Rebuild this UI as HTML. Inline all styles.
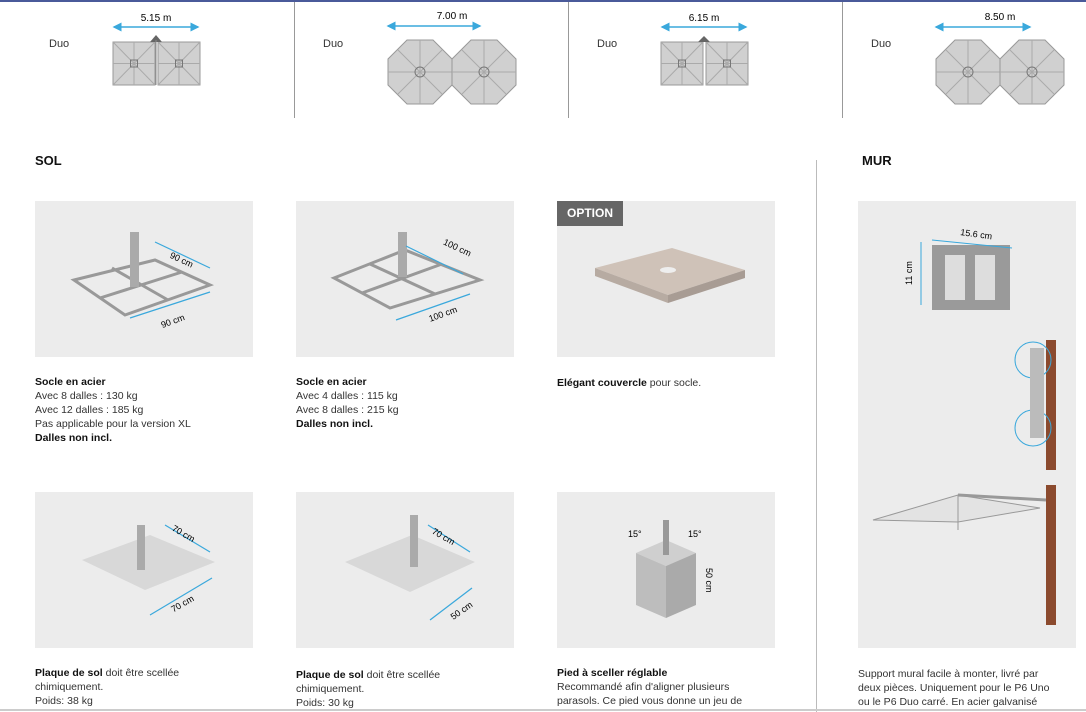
<!DOCTYPE html>
<html><head><meta charset="utf-8"><style>
body{margin:0;width:1086px;height:712px;position:relative;background:#fff;font-family:"Liberation Sans",sans-serif;color:#222;overflow:hidden}
.a{position:absolute}
.box{position:absolute;background:#ececec;width:218px;height:156px}
.t{position:absolute;font-size:10.5px;line-height:14px;color:#333}
.t b{color:#111}
.h{position:absolute;font-size:13px;font-weight:bold;color:#111}
.duo{position:absolute;font-size:11px;color:#333}
.vl{position:absolute;width:1px;background:#999}
</style></head><body>
<div class="a" style="left:0;top:0;width:1086px;height:2px;background:#4a5a9a"></div>
<div class="vl" style="left:294px;top:2px;height:116px"></div>
<div class="vl" style="left:568px;top:2px;height:116px"></div>
<div class="vl" style="left:842px;top:2px;height:116px"></div>
<div class="vl" style="left:816px;top:160px;height:552px;background:#bbb"></div>
<div class="a" style="left:0;top:709px;width:1086px;height:2px;background:#ccc"></div>

<div class="duo" style="left:49px;top:38px">Duo</div>
<div class="duo" style="left:323px;top:38px">Duo</div>
<div class="duo" style="left:597px;top:38px">Duo</div>
<div class="duo" style="left:871px;top:38px">Duo</div>

<svg class="a" style="left:0;top:0" width="1086" height="120" font-family="Liberation Sans" font-size="10">
<defs><marker id="ar" markerWidth="6" markerHeight="6" refX="5" refY="3" orient="auto-start-reverse"><path d="M0,0L6,3L0,6z" fill="#3aa8dc"/></marker>
<g id="sq"><rect x="0" y="0" width="42" height="43" fill="#d0d0d0" stroke="#999"/><path d="M0,0L42,43M42,0L0,43M21,0V43M0,21.5H42" stroke="#aaa"/><rect x="17.5" y="18" width="7" height="7" fill="none" stroke="#777"/></g>
<g id="oct"><polygon points="-13,-32 13,-32 32,-13 32,13 13,32 -13,32 -32,13 -32,-13" fill="#d0d0d0" stroke="#999"/><path d="M-22,-22L22,22M22,-22L-22,22M0,-32V32M-32,0H32" stroke="#aaa"/><circle r="5" fill="none" stroke="#777"/></g></defs>
<line x1="114" y1="27" x2="198" y2="27" stroke="#3aa8dc" stroke-width="1.5" marker-start="url(#ar)" marker-end="url(#ar)"/>
<text x="156" y="21" text-anchor="middle">5.15 m</text>
<use href="#sq" x="113" y="42"/><use href="#sq" x="158" y="42"/><polygon points="150,42 156,35 162,42" fill="#666"/><line x1="156" y1="40" x2="156" y2="85" stroke="#888"/>
<line x1="388" y1="26" x2="480" y2="26" stroke="#3aa8dc" stroke-width="1.5" marker-start="url(#ar)" marker-end="url(#ar)"/>
<text x="452" y="19" text-anchor="middle">7.00 m</text>
<use href="#oct" x="420" y="72"/><use href="#oct" x="484" y="72"/>
<line x1="662" y1="27" x2="746" y2="27" stroke="#3aa8dc" stroke-width="1.5" marker-start="url(#ar)" marker-end="url(#ar)"/>
<text x="704" y="21" text-anchor="middle">6.15 m</text>
<use href="#sq" x="661" y="42"/><use href="#sq" x="706" y="42"/><polygon points="698,42 704,36 710,42" fill="#666"/>
<line x1="936" y1="27" x2="1030" y2="27" stroke="#3aa8dc" stroke-width="1.5" marker-start="url(#ar)" marker-end="url(#ar)"/>
<text x="1000" y="20" text-anchor="middle">8.50 m</text>
<use href="#oct" x="968" y="72"/><use href="#oct" x="1032" y="72"/>
</svg>

<div class="h" style="left:35px;top:153px">SOL</div>
<div class="h" style="left:862px;top:153px">MUR</div>

<div class="box" style="left:35px;top:201px"></div>
<div class="box" style="left:296px;top:201px"></div>
<div class="box" style="left:557px;top:201px"></div>
<div class="box" style="left:35px;top:492px"></div>
<div class="box" style="left:296px;top:492px"></div>
<div class="box" style="left:557px;top:492px"></div>
<div class="box" style="left:858px;top:201px;height:447px"></div>
<div class="a" style="left:557px;top:201px;width:66px;height:25px;background:#666;color:#fff;font-weight:bold;font-size:12px;line-height:25px;text-align:center">OPTION</div>

<svg class="a" style="left:0;top:190px" width="1086" height="470" font-family="Liberation Sans" font-size="9">
<g stroke="#999" stroke-width="3" fill="none">
<path d="M74,90L155,70L210,95L125,125Z M100,108L182,82 M112,78L168,110"/>
<path d="M334,88L405,60L480,90L390,118Z M362,103L442,74 M370,74L435,104"/>
</g>
<rect x="130" y="42" width="9" height="55" fill="#aaa"/><rect x="398" y="42" width="9" height="45" fill="#aaa"/>
<g stroke="#3aa8dc" stroke-width="1.2"><line x1="155" y1="52" x2="210" y2="78"/><line x1="130" y1="128" x2="210" y2="102"/><line x1="406" y1="56" x2="463" y2="84"/><line x1="396" y1="130" x2="470" y2="104"/></g>
<text x="170" y="72" transform="rotate(25 180 68)">90 cm</text><text x="160" y="135" transform="rotate(-20 170 130)">90 cm</text>
<text x="440" y="58" transform="rotate(25 450 62)">100 cm</text><text x="428" y="128" transform="rotate(-20 440 124)">100 cm</text>
<polygon points="595,78 672,58 745,80 668,105" fill="#cfc2b8"/>
<polygon points="595,78 668,105 668,113 595,86" fill="#b7aba2"/><polygon points="668,105 745,80 745,88 668,113" fill="#a89c94"/>
<ellipse cx="668" cy="80" rx="8" ry="3" fill="#eee"/>
<polygon points="82,370 150,345 215,372 145,400" fill="#d8d8d8"/><rect x="137" y="335" width="8" height="45" fill="#aaa"/>
<polygon points="345,372 412,345 475,372 410,402" fill="#d8d8d8"/><rect x="410" y="325" width="8" height="52" fill="#aaa"/>
<g stroke="#3aa8dc" stroke-width="1.2"><line x1="165" y1="335" x2="210" y2="362"/><line x1="150" y1="425" x2="212" y2="388"/><line x1="428" y1="335" x2="470" y2="362"/><line x1="430" y1="430" x2="472" y2="398"/></g>
<text x="170" y="345" transform="rotate(30 180 345)">70 cm</text><text x="170" y="418" transform="rotate(-30 180 414)">70 cm</text>
<text x="430" y="348" transform="rotate(30 440 348)">70 cm</text><text x="450" y="428" transform="rotate(-35 455 424)">50 cm</text>
<polygon points="636,363 666,350 696,363 666,376" fill="#cfcfcf"/><polygon points="636,363 666,376 666,428 636,415" fill="#bdbdbd"/><polygon points="666,376 696,363 696,415 666,428" fill="#aaa"/>
<rect x="663" y="330" width="6" height="35" fill="#999"/>
<text x="628" y="347">15°</text><text x="688" y="347">15°</text><text x="706" y="378" transform="rotate(90 706 378)">50 cm</text>
<rect x="932" y="55" width="78" height="65" fill="#9a9a9a"/><rect x="945" y="65" width="20" height="45" fill="#ddd"/><rect x="975" y="65" width="20" height="45" fill="#ddd"/>
<text x="960" y="45" transform="rotate(8 960 45)">15.6 cm</text><text x="912" y="95" transform="rotate(-90 912 95)">11 cm</text>
<line x1="932" y1="50" x2="1012" y2="58" stroke="#3aa8dc"/><line x1="921" y1="52" x2="921" y2="115" stroke="#3aa8dc"/>
<rect x="1046" y="150" width="10" height="130" fill="#8b4a2e"/><rect x="1046" y="295" width="10" height="140" fill="#8b4a2e"/>
<circle cx="1033" cy="170" r="18" fill="none" stroke="#3aa8dc"/><circle cx="1033" cy="238" r="18" fill="none" stroke="#3aa8dc"/>
<rect x="1030" y="158" width="14" height="90" fill="#bbb"/>
<path d="M873,330L958,305L1040,318L958,332Z" fill="#e3e3e3" stroke="#999"/><line x1="958" y1="305" x2="1046" y2="310" stroke="#999" stroke-width="3"/><line x1="958" y1="305" x2="958" y2="340" stroke="#999"/>
</svg>

<div class="t" style="left:35px;top:375px"><b>Socle en acier</b><br>Avec 8 dalles : 130 kg<br>Avec 12 dalles : 185 kg<br>Pas applicable pour la version XL<br><b>Dalles non incl.</b></div>
<div class="t" style="left:296px;top:375px"><b>Socle en acier</b><br>Avec 4 dalles : 115 kg<br>Avec 8 dalles : 215 kg<br><b>Dalles non incl.</b></div>
<div class="t" style="left:557px;top:376px"><b>Elégant couvercle</b> pour socle.</div>
<div class="t" style="left:35px;top:666px"><b>Plaque de sol</b> doit être scellée<br>chimiquement.<br>Poids: 38 kg</div>
<div class="t" style="left:296px;top:668px"><b>Plaque de sol</b> doit être scellée<br>chimiquement.<br>Poids: 30 kg</div>
<div class="t" style="left:557px;top:666px"><b>Pied à sceller réglable</b><br>Recommandé afin d'aligner plusieurs<br>parasols. Ce pied vous donne un jeu de</div>
<div class="t" style="left:858px;top:667px">Support mural facile à monter, livré par<br>deux pièces. Uniquement pour le P6 Uno<br>ou le P6 Duo carré. En acier galvanisé</div>
</body></html>
